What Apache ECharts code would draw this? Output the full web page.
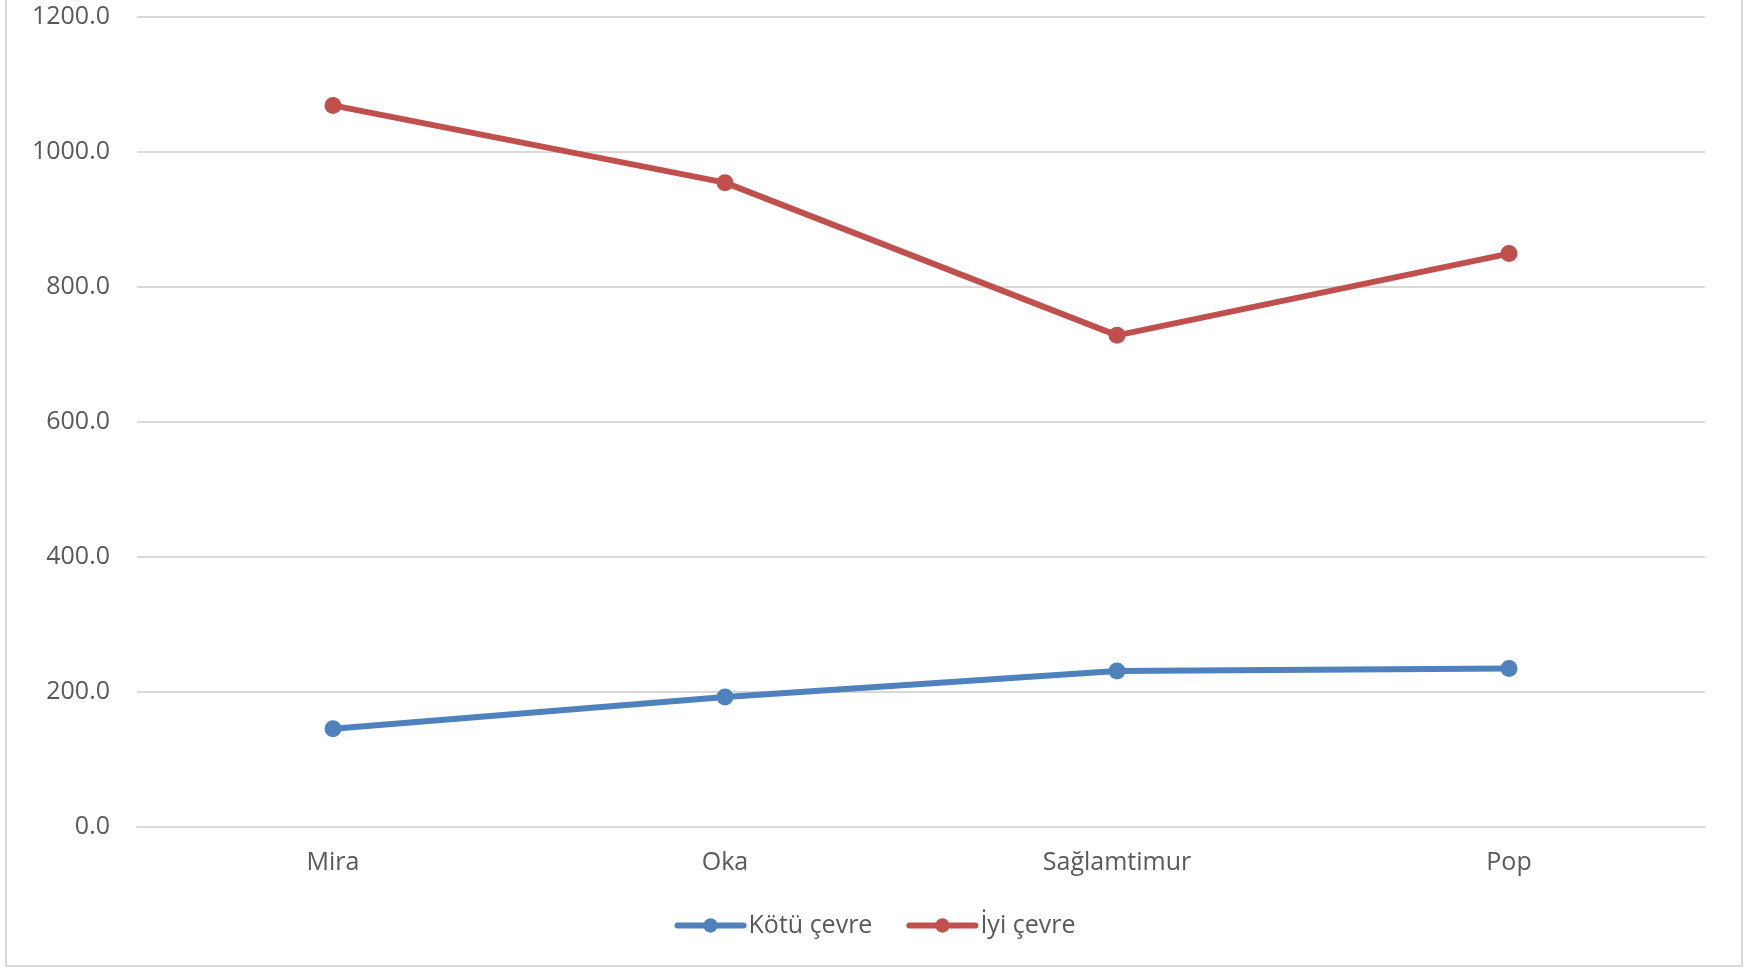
<!DOCTYPE html>
<html><head><meta charset="utf-8">
<script src="https://cdn.jsdelivr.net/npm/echarts@6/dist/echarts.min.js"></script>
<style>html,body{margin:0;padding:0;background:#fff;}#c{width:1750px;height:968px;}</style>
</head><body><div id="c"></div>
<script>
const categories = ['Mira', 'Oka', 'Sağlamtimur', 'Pop'];
const kotuCevre = [145.7, 192.6, 231.0, 234.7];
const iyiCevre = [1069.0, 954.6, 728.4, 849.5];
const seriesNames = ['Kötü çevre', 'İyi çevre'];
const yTicks = { min: 0, max: 1200, interval: 200 };

const chart = echarts.init(document.getElementById('c'));
const font = '"Open Sans", Lato, sans-serif';
chart.setOption({
  animation: false,
  color: ['#4F81BD', '#C0504D'],
  graphic: [{
    type: 'rect', shape: { x: 6, y: -5, width: 1736, height: 971 },
    style: { fill: 'none', stroke: '#D9D9D9', lineWidth: 2 }, silent: true
  }],
  grid: { left: 137, right: 45, top: 17, bottom: 141 },
  legend: {
    bottom: 25, left: 'center', itemWidth: 66, itemHeight: 18, itemGap: 34,
    lineStyle: { width: 6, cap: 'round' },
    textStyle: { fontFamily: font, fontSize: 25, color: '#595959' },
    data: seriesNames
  },
  xAxis: {
    type: 'category', data: categories, boundaryGap: true,
    axisLine: { show: true, lineStyle: { color: '#D9D9D9', width: 2 } },
    axisTick: { show: false },
    axisLabel: { fontFamily: font, fontSize: 25, color: '#595959', margin: 23 }
  },
  yAxis: {
    type: 'value', min: yTicks.min, max: yTicks.max, interval: yTicks.interval,
    axisLine: { show: false }, axisTick: { show: false },
    splitLine: { lineStyle: { color: '#D9D9D9', width: 2 } },
    axisLabel: { fontFamily: font, fontSize: 25, color: '#595959', margin: 27,
      formatter: v => v.toFixed(1) }
  },
  series: [
    { name: seriesNames[0], type: 'line', data: kotuCevre, symbol: 'circle', symbolSize: 17,
      lineStyle: { width: 6 } },
    { name: seriesNames[1], type: 'line', data: iyiCevre, symbol: 'circle', symbolSize: 17,
      lineStyle: { width: 6 } }
  ]
});
</script></body></html>
